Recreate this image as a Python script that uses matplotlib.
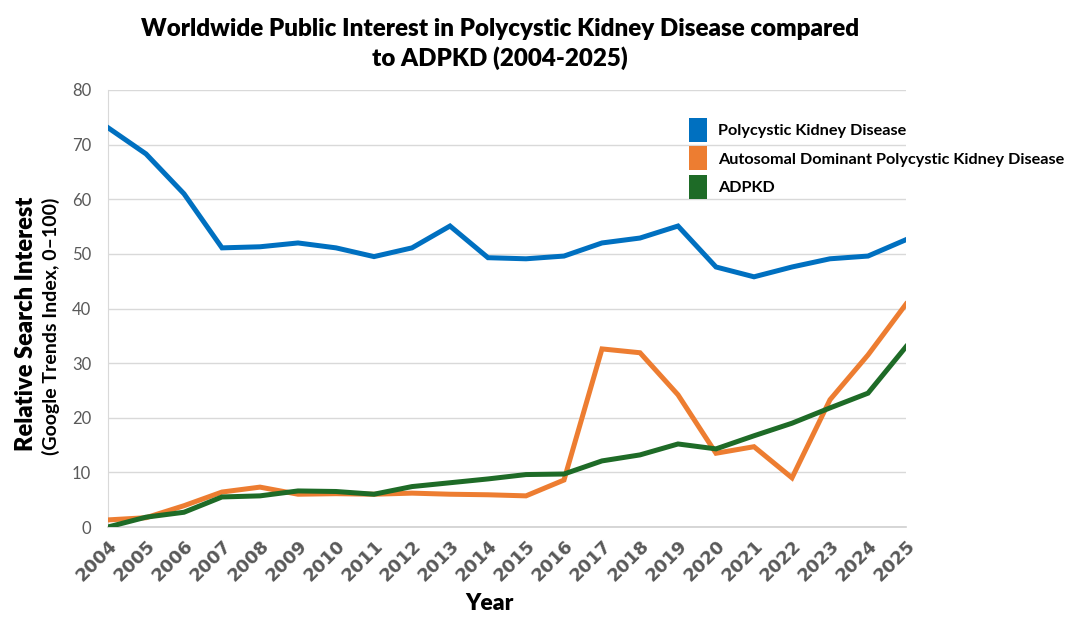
import numpy as np
import matplotlib.pyplot as plt
from matplotlib.patches import Patch, Rectangle
from matplotlib.legend_handler import HandlerPatch

years = list(range(2004, 2026))
pkd = [73.1, 68.3, 61.0, 51.1, 51.3, 52.0, 51.1, 49.5, 51.1, 55.1, 49.3,
       49.1, 49.6, 52.0, 52.9, 55.1, 47.6, 45.8, 47.6, 49.1, 49.6, 52.6]
autosomal = [1.3, 1.7, 3.9, 6.4, 7.3, 6.0, 6.1, 6.0, 6.2, 6.0, 5.9,
             5.7, 8.6, 32.6, 31.9, 24.2, 13.5, 14.7, 9.0, 23.3, 31.5, 40.8]
adpkd = [0.0, 1.8, 2.7, 5.5, 5.7, 6.6, 6.5, 6.0, 7.4, 8.1, 8.8,
         9.6, 9.7, 12.1, 13.2, 15.2, 14.3, 16.7, 19.0, 21.8, 24.5, 33.0]

labels = ["Polycystic Kidney Disease",
          "Autosomal Dominant Polycystic Kidney Disease",
          "ADPKD"]
colors = ["#0070C0", "#ED7D31", "#1E6B27"]

plt.rcParams['font.family'] = ['Lato', 'DejaVu Sans']


def tall_square(legend, orig_handle, xdescent, ydescent, width, height, fontsize):
    # Excel-style legend key: a tall block, centred on the label
    w, h = 13.0, 17.3
    cx = -xdescent + width / 2
    cy = -ydescent + height / 2
    return Rectangle((cx - w / 2, cy - h / 2), w, h)


fig = plt.figure(figsize=(10.85, 6.26), dpi=100)
ax = fig.add_axes([108/1085, 1-527/626, (906-108)/1085, (527-90)/626])

for series, c in zip([pkd, autosomal, adpkd], colors):
    ax.plot(years, series, color=c, linewidth=3.6, solid_joinstyle='miter', zorder=3)

ax.set_xlim(2004, 2025)
ax.set_ylim(0, 80)
ax.set_yticks(np.arange(0, 81, 10))
ax.set_xticks(years)
ax.set_xticklabels([str(y) for y in years], rotation=45, ha='right',
                   rotation_mode='anchor', fontsize=13, fontweight='bold', color='#595959',
                   family=['Liberation Sans Narrow', 'DejaVu Sans'])
ax.tick_params(axis='y', labelsize=12, colors='#595959', length=0, pad=12)
ax.tick_params(axis='x', length=0, pad=7)
ax.grid(axis='y', color='#D9D9D9', linewidth=1)
for s in ['top', 'right']:
    ax.spines[s].set_visible(False)
ax.spines['left'].set_color('#D9D9D9')
ax.spines['bottom'].set_color('#D0D0D0')
ax.spines['bottom'].set_linewidth(1.2)

fig.text(500/1085, 1-44/626, "Worldwide Public Interest in Polycystic Kidney Disease compared\nto ADPKD (2004-2025)",
         ha='center', va='center', fontsize=17.4, fontweight='heavy', linespacing=1.3)
fig.text(489/1085, 1-604/626, "Year", ha='center', va='center', fontsize=16.5, fontweight='heavy')
fig.text(26/1085, 1-324/626, "Relative Search Interest", ha='center', va='center',
         rotation=90, fontsize=17, fontweight='heavy')
fig.text(51/1085, 1-326/626, "(Google Trends Index, 0\u2013100)", ha='center', va='center',
         rotation=90, fontsize=14, fontweight='bold')

handles = [Patch(facecolor=c, edgecolor='none') for c in colors]
fig.legend(handles, labels, loc='upper left', bbox_to_anchor=(684/1085, 1-115/626),
           frameon=False, prop={'weight': 'bold', 'size': 11.7},
           handlelength=1.1, handleheight=1.48, handletextpad=0.68, labelspacing=0.55,
           borderaxespad=0, borderpad=0.3,
           handler_map={Patch: HandlerPatch(patch_func=tall_square)})

fig.savefig("out.png", dpi=100)
